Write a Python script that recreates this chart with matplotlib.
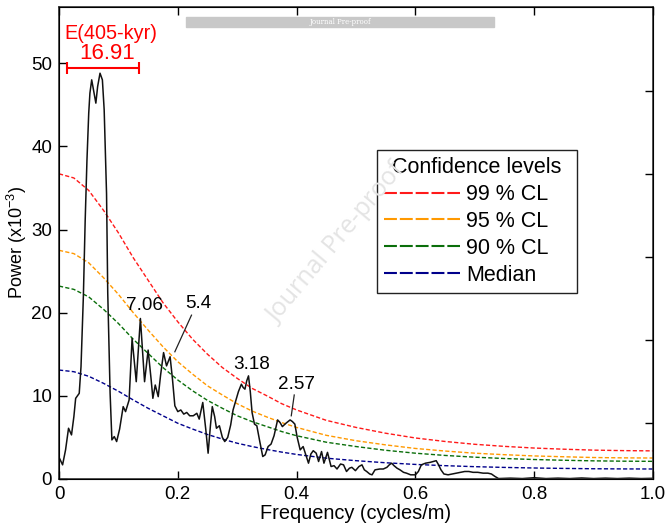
import numpy as np
import matplotlib
matplotlib.use("Agg")
import matplotlib.pyplot as plt
from matplotlib.lines import Line2D
from matplotlib.patches import Rectangle

plt.rcParams['font.family'] = ['Liberation Sans', 'DejaVu Sans']

# spectrum
freq = [0.000, 0.006, 0.011, 0.016, 0.021, 0.025, 0.028, 0.034, 0.037, 0.041,
        0.044, 0.047, 0.050, 0.052, 0.055, 0.058, 0.062, 0.065, 0.069, 0.073,
        0.076, 0.080, 0.082, 0.086, 0.089, 0.093, 0.097, 0.102, 0.108, 0.112,
        0.118, 0.120, 0.123, 0.127, 0.130, 0.133, 0.137, 0.141, 0.144, 0.150,
        0.155, 0.158, 0.162, 0.167, 0.171, 0.176, 0.181, 0.187, 0.191, 0.195,
        0.200, 0.205, 0.210, 0.215, 0.220, 0.226, 0.232, 0.236, 0.242, 0.247,
        0.251, 0.255, 0.258, 0.262, 0.265, 0.270, 0.275, 0.279, 0.284, 0.289,
        0.293, 0.298, 0.302, 0.307, 0.310, 0.313, 0.316, 0.319, 0.322, 0.325,
        0.329, 0.333, 0.338, 0.343, 0.347, 0.352, 0.357, 0.362, 0.368, 0.372,
        0.376, 0.382, 0.389, 0.393, 0.397, 0.401, 0.406, 0.411, 0.415, 0.420,
        0.424, 0.428, 0.433, 0.437, 0.442, 0.446, 0.452, 0.458, 0.463, 0.468,
        0.474, 0.479, 0.484, 0.489, 0.493, 0.499, 0.505, 0.510, 0.514, 0.518,
        0.523, 0.527, 0.532, 0.540, 0.546, 0.552, 0.556, 0.560, 0.564, 0.569,
        0.574, 0.580, 0.585, 0.592, 0.600, 0.605, 0.610, 0.617, 0.625, 0.630,
        0.635, 0.639, 0.643, 0.648, 0.655, 0.662, 0.669, 0.676, 0.683, 0.690,
        0.697, 0.705, 0.714, 0.722, 0.728, 0.734, 0.740, 0.760, 0.780, 0.800,
        0.820, 0.840, 0.860, 0.880, 0.900, 0.920, 0.940, 0.960, 0.980, 1.000]
power = [2.6, 1.7, 3.5, 6.1, 5.3, 7.5, 9.7, 10.3, 13.5, 22.0,
         31.0, 38.3, 44.0, 46.4, 48.0, 46.8, 45.2, 47.2, 48.8, 48.0,
         44.4, 34.3, 22.4, 10.3, 4.7, 5.1, 4.5, 6.0, 8.7, 8.1,
         9.5, 12.5, 16.9, 14.0, 11.7, 15.0, 19.3, 15.0, 11.7, 15.5,
         12.0, 9.7, 11.3, 9.9, 12.5, 15.2, 13.6, 14.7, 12.0, 8.8,
         8.1, 8.3, 7.8, 8.0, 7.6, 7.6, 7.9, 7.2, 9.2, 6.0,
         3.1, 6.5, 8.7, 7.5, 6.1, 6.4, 5.0, 4.5, 5.0, 6.5,
         8.3, 9.5, 10.5, 11.4, 11.0, 10.8, 11.8, 12.4, 10.5, 8.0,
         6.6, 6.4, 4.5, 2.7, 2.9, 3.9, 4.2, 5.2, 7.1, 6.8,
         6.3, 6.7, 7.1, 6.9, 6.6, 5.0, 3.5, 3.9, 3.0, 1.9,
         3.0, 3.4, 3.1, 2.1, 3.3, 1.9, 3.2, 1.5, 1.6, 1.2,
         1.8, 1.7, 0.9, 1.3, 1.4, 1.0, 1.5, 1.7, 1.1, 0.9,
         0.6, 0.5, 1.1, 1.2, 1.2, 1.4, 1.7, 1.9, 1.6, 1.3,
         1.1, 0.8, 0.7, 0.5, 0.5, 0.9, 1.7, 1.9, 2.0, 2.1,
         2.2, 1.7, 1.1, 0.6, 0.5, 0.6, 0.7, 0.8, 0.9, 0.9,
         0.8, 0.8, 0.7, 0.7, 0.6, 0.3, 0.05, 0.1, 0.05, 0.15,
         0.05, 0.1, 0.05, 0.12, 0.05, 0.1, 0.05, 0.1, 0.05, 0.08]

# confidence level curves
cl_freq = [0.000, 0.025, 0.050, 0.075, 0.100, 0.125, 0.150, 0.175, 0.200,
           0.225, 0.250, 0.275, 0.300, 0.325, 0.350, 0.375, 0.400, 0.450,
           0.500, 0.550, 0.600, 0.650, 0.700, 0.750, 0.800, 0.850, 0.900,
           0.950, 1.000]
cl99 = [36.7, 36.2, 34.7, 32.3, 29.6, 26.6, 23.9, 21.2, 18.9,
        16.8, 15.0, 13.4, 12.1, 10.9, 10.0, 9.05, 8.3, 7.05,
        6.2, 5.5, 4.93, 4.51, 4.17, 3.92, 3.72, 3.58, 3.47,
        3.41, 3.38]
cl95 = [27.5, 27.1, 26.0, 24.2, 22.2, 20.0, 17.9, 15.9, 14.1,
        12.6, 11.2, 10.1, 9.05, 8.17, 7.45, 6.78, 6.2, 5.25,
        4.6, 4.1, 3.67, 3.36, 3.1, 2.92, 2.77, 2.67, 2.58,
        2.54, 2.52]
cl90 = [23.2, 22.8, 21.9, 20.4, 18.7, 16.8, 15.1, 13.4, 11.9,
        10.6, 9.45, 8.5, 7.6, 6.9, 6.3, 5.7, 5.2, 4.42,
        3.9, 3.45, 3.1, 2.83, 2.62, 2.46, 2.34, 2.25, 2.18,
        2.14, 2.12]
median = [13.1, 12.9, 12.35, 11.5, 10.55, 9.5, 8.5, 7.6, 6.7,
          6.0, 5.35, 4.8, 4.3, 3.9, 3.55, 3.23, 2.95, 2.5,
          2.2, 1.95, 1.75, 1.6, 1.48, 1.39, 1.32, 1.27, 1.23,
          1.21, 1.2]

cl_labels = ['99 % CL', '95 % CL', '90 % CL', 'Median']
cl_colors = ['#ff1a1a', '#ff9900', '#0a6e0a', '#00008b']

fig = plt.figure(figsize=(6.67, 5.26), dpi=100)
ax = fig.add_axes([0.0885, 0.0894, 0.8905, 0.8979])

for vals, c in zip([cl99, cl95, cl90, median], cl_colors):
    ax.plot(cl_freq, vals, color=c, lw=1.0, ls=(0, (3, 1.6)))
ax.plot(freq, power, color='#111111', lw=1.1)

ax.set_xlim(0, 1.0)
ax.set_ylim(0, 56.8)
ax.set_xticks([0, 0.2, 0.4, 0.6, 0.8, 1.0])
ax.set_xticklabels(['0', '0.2', '0.4', '0.6', '0.8', '1.0'])
ax.set_yticks([0, 10, 20, 30, 40, 50])
ax.tick_params(direction='in', length=5.5, width=1, labelsize=13.5, top=True, pad=5)
for s in ax.spines.values():
    s.set_linewidth(1.2)
    s.set_color('#333333')

ax2 = ax.twinx()
ax2.set_ylim(0, 56.8)
ax2.set_yticks([6.7, 16.7, 26.7, 36.7, 46.7])
ax2.tick_params(direction='in', length=5.5, width=1, labelright=False)

ax.set_xlabel('Frequency (cycles/m)', fontsize=14.4, labelpad=1)
ax.set_ylabel('Power (x10$^{\\mathregular{-3}}$)', fontsize=13, labelpad=1.5)

# annotations
ax.text(0.0875, 53.6, 'E(405-kyr)', color='red', fontsize=14.3, ha='center', va='center')
ax.text(0.081, 51.2, '16.91', color='red', fontsize=16, ha='center', va='center')
ax.errorbar([0.074], [49.4], xerr=[[0.061], [0.061]], color='red', lw=1.5,
            capsize=4.5, capthick=1.5)

ax.text(0.144, 20.9, '7.06', fontsize=13.6, ha='center', va='center')
ax.text(0.235, 21.1, '5.4', fontsize=13.6, ha='center', va='center')
ax.plot([0.223, 0.195], [19.7, 15.3], color='#222222', lw=0.9)
ax.text(0.325, 13.8, '3.18', fontsize=13.6, ha='center', va='center')
ax.text(0.40, 11.4, '2.57', fontsize=13.6, ha='center', va='center')
ax.plot([0.396, 0.391], [10.1, 7.6], color='#222222', lw=0.9)

handles = [Line2D([], [], color=c, lw=1.5, ls=(0, (6.2, 1.4))) for c in cl_colors]
leg = ax.legend(handles, cl_labels, title='Confidence levels', loc='upper left',
                bbox_to_anchor=(0.535, 0.394, 0.337, 0.303), mode='expand',
                fontsize=15.5, title_fontsize=15.5,
                handlelength=3.5, handletextpad=0.3, labelspacing=0.27,
                borderpad=0.35, borderaxespad=0, fancybox=False, framealpha=1,
                edgecolor='#222222')
leg.get_frame().set_linewidth(1.0)

# journal watermark
fig.patches.append(Rectangle((0.279, 0.9487), 0.462, 0.019, transform=fig.transFigure,
                             color='#c8c8c8', zorder=5))
fig.text(0.51, 0.958, 'Journal Pre-proof', fontsize=5, color='white', ha='center',
         va='center', family='DejaVu Serif', zorder=6)
fig.text(0.505, 0.538, 'Journal Pre-proof', fontsize=18, color='#e4e4e4',
         rotation=50, ha='center', va='center', rotation_mode='anchor',
         family='Open Sans', zorder=10)

fig.savefig('out.png', dpi=100)
